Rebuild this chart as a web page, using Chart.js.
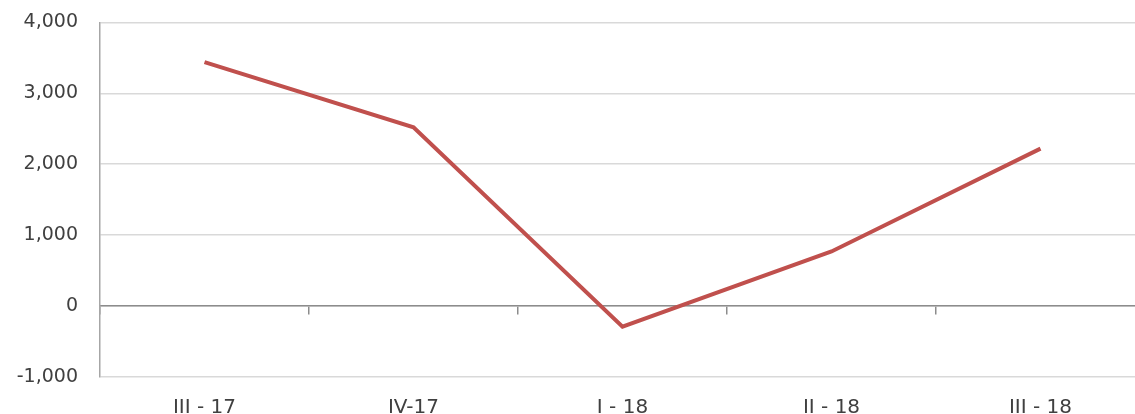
<!DOCTYPE html>
<html>
<head>
<meta charset="utf-8">
<script src="https://cdn.jsdelivr.net/npm/chart.js@4"></script>
<style>
  html, body { margin: 0; padding: 0; background: #fff; overflow: hidden; }
  #wrap { width: 1145px; height: 435px; margin-top: -11px; position: relative; }
</style>
</head>
<body>
<div id="wrap"><canvas id="myChart"></canvas></div>
<script>
const categories = ['III - 17', 'IV-17', 'I - 18', 'II - 18', 'III - 18'];
const values = [3440, 2520, -290, 770, 2220];
const yTicks = [-1000, 0, 1000, 2000, 3000, 4000];

function renderLineChart() {
    const ctx = document.getElementById('myChart');

    new Chart(ctx, {
        type: 'line',
        data: {
            labels: categories,
            datasets: [{
                label: 'Series 1',
                data: values,
                borderColor: '#c0504d',
                backgroundColor: '#c0504d',
                borderWidth: 4,
                pointRadius: 0,
                tension: 0,
                fill: false
            }]
        },
        options: {
            responsive: true,
            maintainAspectRatio: false,
            animation: false,
            layout: {
                padding: { top: 2, right: 0, bottom: 0, left: 0 }
            },
            plugins: {
                legend: { display: false },
                tooltip: { enabled: false }
            },
            scales: {
                x: {
                    type: 'category',
                    offset: true,
                    grid: { display: false },
                    border: { display: false },
                    ticks: {
                        color: '#404040',
                        padding: 11,
                        maxRotation: 0,
                        font: { family: 'DejaVu Sans', size: 20 }
                    },
                    afterFit(scale) { scale.height = 47; }
                },
                // zero line with tick marks between the categories
                x2: {
                    type: 'category',
                    labels: categories,
                    offset: true,
                    position: { y: 0 },
                    grid: {
                        offset: true,
                        drawOnChartArea: false,
                        drawTicks: true,
                        tickLength: 8,
                        color: '#8c8c8c',
                        lineWidth: 1.5
                    },
                    border: { display: true, color: '#8c8c8c', width: 1.5 },
                    ticks: { display: false }
                },
                y: {
                    min: -1000,
                    max: 4000,
                    afterBuildTicks(scale) {
                        scale.ticks = yTicks.map(v => ({ value: v }));
                    },
                    grid: {
                        color: '#d9d9d9',
                        lineWidth: 1.5,
                        drawTicks: false
                    },
                    border: { display: true, color: '#a6a6a6', width: 1.5 },
                    ticks: {
                        color: '#404040',
                        padding: 22,
                        font: { family: 'DejaVu Sans', size: 19 },
                        callback: v => v.toLocaleString('en-US')
                    },
                    afterFit(scale) { scale.width = 100; }
                }
            }
        }
    });
}

renderLineChart();
</script>
</body>
</html>
